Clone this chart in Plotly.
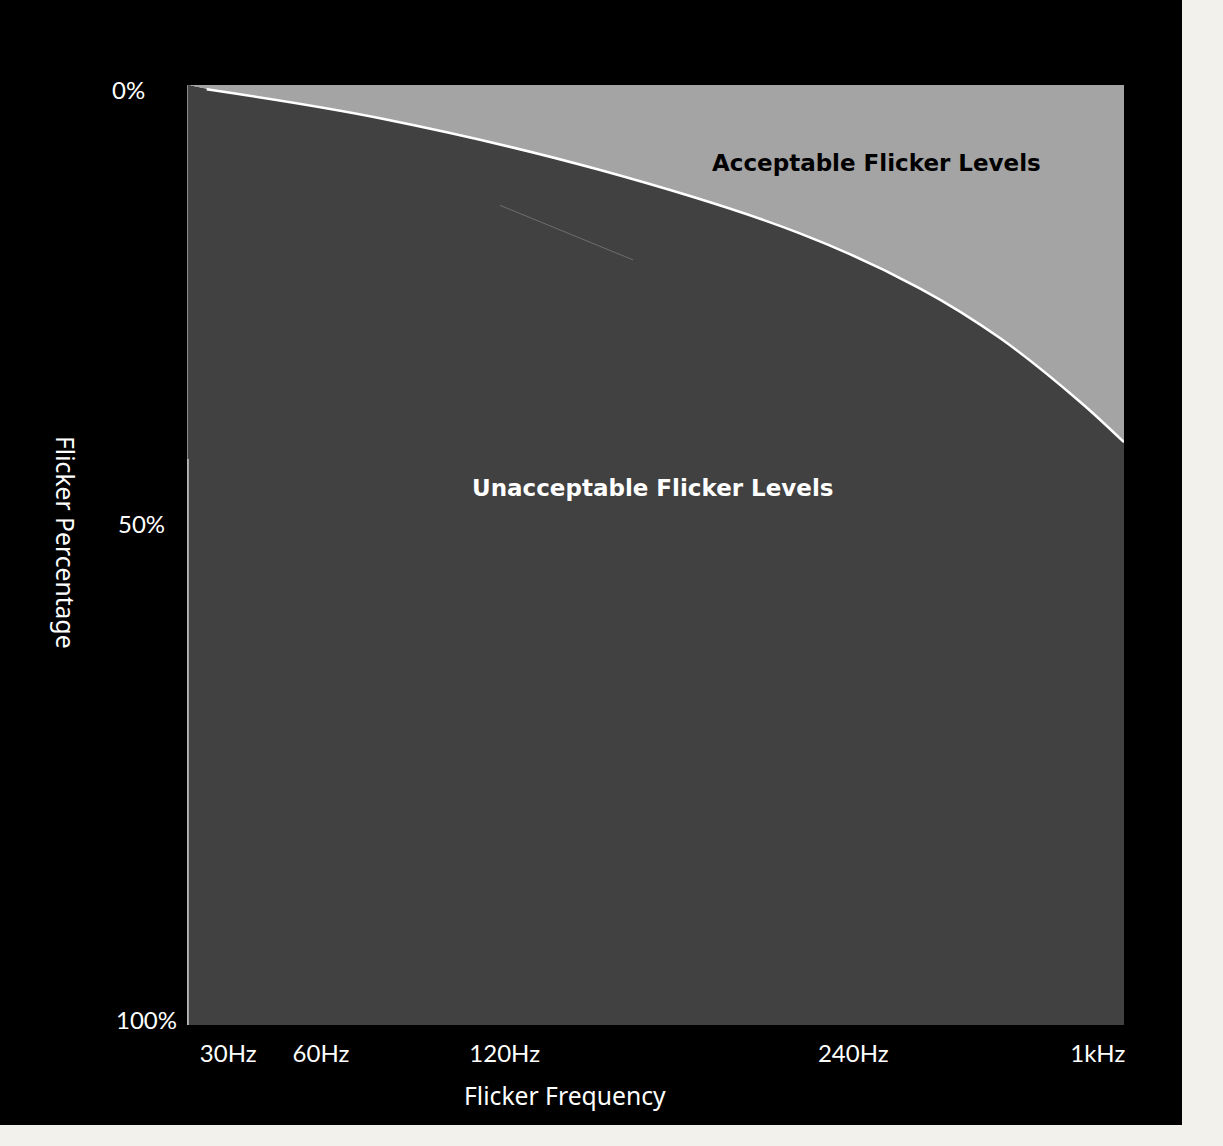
"""
Flicker percentage vs flicker frequency - acceptable / unacceptable zones.
"""

import plotly.graph_objects as go

# curve position along the frequency axis (0-100 = left to right of the plot)
curve_x = [0, 2.1, 20.6, 44.1, 65.4, 78.2, 86.8, 95.3, 100]
# flicker percentage at the boundary (0% at top)
curve_y = [0, 0.46, 3.54, 9.05, 15.78, 21.63, 26.95, 33.69, 38.0]

# x tick labels and where they sit
freq_ticks = [4.4, 14.3, 33.9, 71.1, 97.2]
freq_labels = ['30Hz', '60Hz', '120Hz', '240Hz', '1kHz']

# y tick labels (hand placed in the original)
pct_ticks = [0.5, 46.7, 99.4]
pct_labels = ['0%', '50%', '100%']
pct_label_x = [-0.0427, -0.0213, -0.0085]

# stray guide stroke left in the original drawing
stroke_x = [33.4, 47.6]
stroke_y = [12.8, 18.6]

LIGHT = '#a4a4a4'
DARK = '#414141'

fig = go.Figure()

# top edge -> curve : acceptable zone
fig.add_trace(go.Scatter(x=[0, 100], y=[0, 0], mode='lines',
                         line=dict(width=0), showlegend=False, hoverinfo='skip'))
fig.add_trace(go.Scatter(x=curve_x, y=curve_y, mode='lines', fill='tonexty',
                         fillcolor=LIGHT, line=dict(width=0, shape='spline', smoothing=1.0),
                         showlegend=False, hoverinfo='skip'))
# curve -> bottom edge : unacceptable zone
fig.add_trace(go.Scatter(x=[0, 100], y=[100, 100], mode='lines', fill='tonexty',
                         fillcolor=DARK, line=dict(width=0),
                         showlegend=False, hoverinfo='skip'))

# boundary line
fig.add_trace(go.Scatter(x=curve_x[1:], y=curve_y[1:], mode='lines',
                         line=dict(color='white', width=2.5, shape='spline', smoothing=1.0),
                         showlegend=False))

# left edge lines
fig.add_trace(go.Scatter(x=[0.05, 0.05], y=[0, 39.8], mode='lines',
                         line=dict(color='#8a8a8a', width=1.2), showlegend=False))
fig.add_trace(go.Scatter(x=[0.1, 0.1], y=[39.8, 100], mode='lines',
                         line=dict(color='#c8c8c8', width=1.6), showlegend=False))

fig.add_trace(go.Scatter(x=stroke_x, y=stroke_y, mode='lines',
                         line=dict(color='#6e6e6e', width=1), showlegend=False))

annotations = [
    dict(x=73.6, y=8.3, xref='x', yref='y', text='<b>Acceptable Flicker Levels</b>',
         showarrow=False, font=dict(family='DejaVu Sans', size=23, color='black')),
    dict(x=49.7, y=42.9, xref='x', yref='y', text='<b>Unacceptable Flicker Levels</b>',
         showarrow=False, font=dict(family='DejaVu Sans', size=23, color='white')),
    dict(x=0.4034, y=-0.0745, xref='paper', yref='paper', text='Flicker Frequency',
         xanchor='center', yanchor='middle', showarrow=False,
         font=dict(family='Noto Sans', size=24.7, color='white')),
    dict(x=-0.1291, y=0.5138, xref='paper', yref='paper', text='Flicker Percentage',
         xanchor='center', yanchor='middle', textangle=90, showarrow=False,
         font=dict(family='Noto Sans', size=24.7, color='white')),
]
for val, lab, px in zip(pct_ticks, pct_labels, pct_label_x):
    annotations.append(dict(x=px, y=val, xref='paper', yref='y', text=lab,
                            xanchor='right', yanchor='middle', showarrow=False,
                            font=dict(family='Lato', size=24, color='white')))

fig.update_layout(
    width=1223, height=1146,
    margin=dict(l=187, r=99, t=85, b=121),
    paper_bgcolor='#f3f1ec',
    plot_bgcolor='rgba(0,0,0,0)',
    annotations=annotations,
    shapes=[dict(type='rect', xref='paper', yref='paper', layer='below',
                 x0=-0.1996, x1=1.0619, y0=-0.1064, y1=1.0904,
                 fillcolor='black', line=dict(width=0))],
    xaxis=dict(range=[0, 100], showgrid=False, zeroline=False, showline=False,
               tickvals=freq_ticks, ticktext=freq_labels, ticks='',
               tickfont=dict(family='Lato', size=24, color='white'),
               ticklabelstandoff=12, fixedrange=True),
    yaxis=dict(range=[100, 0], showgrid=False, zeroline=False, showline=False,
               showticklabels=False, ticks='', fixedrange=True),
)

# page margin off so the figure sits at the window's corner
fig.write_html('out.html', config={'displayModeBar': False},
               post_script="document.body.style.margin='0';")
